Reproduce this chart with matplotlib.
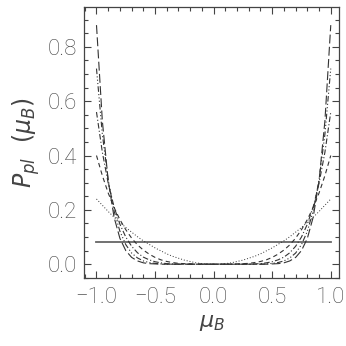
import matplotlib
matplotlib.use("Agg")
import matplotlib.pyplot as plt
from matplotlib.ticker import MultipleLocator

# pitch-angle grid and curve values
mu = [-1.0, -0.95, -0.9, -0.85, -0.8, -0.75, -0.7, -0.65, -0.6, -0.55, -0.5,
      -0.45, -0.4, -0.35, -0.3, -0.25, -0.2, -0.15, -0.1, -0.05, 0.0,
      0.05, 0.1, 0.15, 0.2, 0.25, 0.3, 0.35, 0.4, 0.45, 0.5,
      0.55, 0.6, 0.65, 0.7, 0.75, 0.8, 0.85, 0.9, 0.95, 1.0]

flat_mu = [-1.0, 1.0]
p0 = [0.08, 0.08]

p2 = [.240, .217, .194, .173, .154, .135, .118, .101, .086, .073, .060,
      .049, .038, .029, .022, .015, .010, .005, .002, .001, 0,
      .001, .002, .005, .010, .015, .022, .029, .038, .049, .060,
      .073, .086, .101, .118, .135, .154, .173, .194, .217, .240]

p4 = [.400, .326, .262, .209, .164, .127, .096, .071, .052, .037, .025,
      .016, .010, .006, .003, .002, .001, 0, 0, 0, 0,
      0, 0, 0, .001, .002, .003, .006, .010, .016, .025,
      .037, .052, .071, .096, .127, .164, .209, .262, .326, .400]

p6 = [.560, .412, .298, .211, .147, .100, .066, .042, .026, .016, .009,
      .005, .002, .001, 0, 0, 0, 0, 0, 0, 0,
      0, 0, 0, 0, 0, 0, .001, .002, .005, .009,
      .016, .026, .042, .066, .100, .147, .211, .298, .412, .560]

p8 = [.720, .478, .310, .196, .121, .072, .041, .023, .012, .006, .003,
      .001, 0, 0, 0, 0, 0, 0, 0, 0, 0,
      0, 0, 0, 0, 0, 0, 0, 0, .001, .003,
      .006, .012, .023, .041, .072, .121, .196, .310, .478, .720]

p10 = [.880, .527, .307, .173, .095, .050, .025, .012, .005, .002, .001,
       0, 0, 0, 0, 0, 0, 0, 0, 0, 0,
       0, 0, 0, 0, 0, 0, 0, 0, 0, .001,
       .002, .005, .012, .025, .050, .095, .173, .307, .527, .880]

xticks = [-1.0, -0.5, 0.0, 0.5, 1.0]
yticks = [0.0, 0.2, 0.4, 0.6, 0.8]

grey = "#444444"
plt.rcParams["font.family"] = ["Roboto", "DejaVu Sans"]

fig = plt.figure(figsize=(3.46, 3.46), dpi=100)
ax = fig.add_axes([0.243, 0.196, 0.737, 0.784])

lc = "#333333"
ax.plot(flat_mu, p0, color="#666666", lw=1.3, ls="-")
ax.plot(mu, p2, color=lc, lw=0.7, ls=(0, (1, 2)))
ax.plot(mu, p4, color=lc, lw=0.8, ls=(0, (4, 3)))
ax.plot(mu, p6, color=lc, lw=0.8, ls=(0, (5, 2, 1, 2)))
ax.plot(mu, p8, color=lc, lw=0.8, ls=(0, (5, 2, 1, 2, 1, 2, 1, 2)))
ax.plot(mu, p10, color=lc, lw=0.8, ls=(0, (8, 3)))

ax.set_xlim(-1.106, 1.071)
ax.set_ylim(-0.0515, 0.947)
ax.set_xticks(xticks)
ax.set_yticks(yticks)
ax.set_xticklabels([f"{t:.1f}".replace("-", "\u2212") for t in xticks])
ax.set_yticklabels([f"{t:.1f}" for t in yticks])
ax.xaxis.set_minor_locator(MultipleLocator(0.1))
ax.yaxis.set_minor_locator(MultipleLocator(0.05))

ax.tick_params(which="both", direction="in", top=True, right=True,
               colors=grey, labelsize=16, width=0.8)
ax.tick_params(which="major", length=5)
ax.tick_params(which="minor", length=3)
ax.tick_params(axis="x", pad=6)
ax.tick_params(axis="y", pad=5)
for lab in ax.get_xticklabels() + ax.get_yticklabels():
    lab.set_fontweight("light")
for sp in ax.spines.values():
    sp.set_color(grey)
    sp.set_linewidth(0.9)

ax.set_xlabel(r"$\mu_B$", fontsize=16, color=grey, labelpad=3)
ax.set_ylabel(r"$P_{pl}\ \ (\mu_B)$", fontsize=17, color=grey, labelpad=4)

fig.savefig("out.png", dpi=100)
